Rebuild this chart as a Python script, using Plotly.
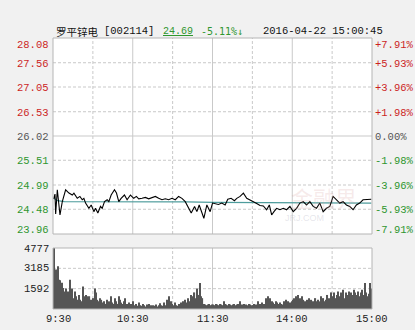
import plotly.graph_objects as go

# ---------------- data ----------------
prev_close = 26.02
price_times = [0, 1, 1.5, 2.75, 4.75, 6.5, 9, 11.5, 14, 15.25, 17.75, 19.75, 21.5, 22.75, 24,
               26.5, 28.25, 30.25, 31.5, 33.25, 35.25, 36.5, 38.25, 40.25, 41.5, 43.25, 45.75,
               47.25, 49, 50.75, 53.25, 55.25, 57.75, 60.25, 62.25, 64, 66.5, 69, 71.5, 74,
               76.5, 79, 81.5, 84, 86.5, 89, 91.5, 94, 96.5, 99, 101.5, 103.5, 106, 107.75,
               109.5, 111.5, 113, 115.25, 117.75, 119.5, 121.5, 124, 126.5, 129, 131, 133.5,
               136, 137.75, 140.25, 142.75, 145.25, 147.75, 150.25, 152.75, 155.25, 157.75,
               160.25, 162.25, 164, 165.75, 167.75, 170.25, 172.75, 175.25, 177.75, 180.25,
               182.75, 185.25, 187.75, 190.25, 192.75, 195.25, 197.75, 200.25, 202.75, 205.25,
               207.75, 210.25, 212.75, 215.25, 217.75, 220.25, 222.75, 225.25, 227.75, 230.25,
               232.75, 235.25, 239]
price_values = [24.70, 24.80, 24.38, 24.89, 24.36, 24.64, 24.89, 24.82, 24.78, 24.82, 24.71,
                24.75, 24.68, 24.71, 24.61, 24.50, 24.57, 24.43, 24.50, 24.40, 24.54, 24.50,
                24.64, 24.68, 24.64, 24.78, 24.89, 24.82, 24.64, 24.71, 24.78, 24.68, 24.78,
                24.71, 24.75, 24.70, 24.71, 24.73, 24.70, 24.73, 24.75, 24.71, 24.68, 24.70,
                24.68, 24.71, 24.68, 24.75, 24.71, 24.64, 24.50, 24.40, 24.54, 24.43, 24.57,
                24.40, 24.29, 24.57, 24.43, 24.61, 24.60, 24.58, 24.61, 24.57, 24.69, 24.71,
                24.66, 24.71, 24.75, 24.82, 24.71, 24.68, 24.64, 24.60, 24.56, 24.55, 24.47,
                24.57, 24.36, 24.43, 24.50, 24.47, 24.50, 24.47, 24.54, 24.43, 24.50, 24.61,
                24.64, 24.57, 24.64, 24.54, 24.50, 24.61, 24.43, 24.50, 24.54, 24.75, 24.68,
                24.61, 24.64, 24.57, 24.54, 24.47, 24.57, 24.61, 24.68, 24.69, 24.69]
avg_times = [0, 3, 8, 30, 60, 100, 120, 180, 239]
avg_values = [24.71, 24.66, 24.64, 24.64, 24.645, 24.635, 24.625, 24.615, 24.61]
volume = [
    4777, 3050, 3100, 3350, 2300, 2250, 2050, 1650, 1380, 1600,
    990, 1380, 2300, 1100, 1600, 850, 1380, 990, 720, 1100,
    720, 600, 1770, 990, 1100, 990, 850, 1000, 720, 600,
    850, 1600, 1300, 720, 600, 850, 720, 500, 600, 400,
    720, 500, 600, 990, 500, 400, 850, 600, 400, 990,
    720, 500, 400, 600, 850, 400, 300, 500, 400, 300,
    600, 300, 400, 250, 500, 300, 250, 400, 300, 200,
    350, 250, 400, 300, 200, 300, 250, 350, 200, 300,
    450, 300, 250, 500, 300, 720, 400, 990, 600, 400,
    300, 500, 300, 250, 400, 300, 500, 600, 400, 720,
    500, 850, 600, 1100, 720, 990, 1300, 850, 1600, 1100,
    2040, 990, 850, 400, 350, 300, 350, 400, 300, 350,
    350, 300, 400, 350, 300, 400, 350, 300, 600, 400,
    350, 300, 400, 350, 300, 350, 400, 300, 350, 400,
    600, 300, 350, 400, 300, 350, 300, 400, 350, 300,
    300, 400, 350, 300, 600, 400, 350, 500, 400, 350,
    850, 990, 720, 850, 600, 500, 400, 600, 500, 400,
    500, 400, 350, 600, 500, 720, 600, 400, 500, 600,
    720, 850, 990, 720, 1100, 850, 600, 990, 720, 600,
    500, 720, 850, 600, 720, 600, 500, 850, 600, 720,
    600, 990, 720, 850, 600, 720, 1100, 850, 720, 1300,
    990, 1300, 850, 1100, 1380, 990, 1300, 1100, 1500, 850,
    1300, 1100, 1380, 990, 1300, 1100, 1500, 1300, 1100, 1380,
    990, 1300, 1500, 1100, 2040, 1300, 990, 1200, 2040, 1600,
]
price_ticks = [28.08, 27.56, 27.05, 26.53, 26.02, 25.51, 24.99, 24.48, 23.96]
pct_labels = ["+7.91%", "+5.93%", "+3.96%", "+1.98%", "0.00%", "-1.98%", "-3.96%", "-5.93%", "-7.91%"]
vol_ticks = [4777, 3185, 1592]
time_ticks = [0, 60, 120, 180, 240]
time_labels = ["9:30", "10:30", "11:30", "14:00", "15:00"]
grid_solid_x = [60, 120, 180]
grid_dash_x = [30, 90, 150, 210]
title_name = "罗平锌电"
title_code = "[002114]"
last_price = "24.69"
last_change = "-5.11%↓"
stamp = "2016-04-22 15:00:45"

# ---------------- layout constants ----------------
W, H = 415, 330
XL, XR = 53, 372
P_TOP, P_BOT = 38, 234
V_TOP, V_BOT = 248, 309
def py(px):
    return 1 - px / H

RED = "#CC1F1F"
GREEN = "#2F962F"
GRAY = "#555555"
MONO = "Liberation Mono, DejaVu Sans Mono, monospace"
GRID = "#C9C9C9"

fig = go.Figure()
fig.add_trace(go.Scatter(x=avg_times, y=avg_values, mode="lines",
                         line=dict(color="#4E9C9C", width=1.2), hoverinfo="skip",
                         xaxis="x", yaxis="y"))
fig.add_trace(go.Scatter(x=price_times, y=price_values, mode="lines",
                         line=dict(color="#000000", width=1.1), hoverinfo="skip",
                         xaxis="x", yaxis="y"))
fig.add_trace(go.Bar(x=list(range(len(volume))), y=volume, marker=dict(color="#555555", line=dict(width=0)),
                     xaxis="x", yaxis="y2", hoverinfo="skip"))

shapes = []
for i, t in enumerate(price_ticks[1:-1]):
    solid = abs(t - prev_close) < 1e-6
    shapes.append(dict(type="line", xref="paper", yref="y", x0=XL / W, x1=XR / W, y0=t, y1=t,
                       line=dict(color=GRID, width=1, dash="solid" if solid else "3px,2px"), layer="below"))
for yr0, yr1 in [(P_TOP, P_BOT), (V_TOP, V_BOT)]:
    for gx in grid_solid_x:
        shapes.append(dict(type="line", xref="x", yref="paper", x0=gx - 0.5, x1=gx - 0.5,
                           y0=py(yr1), y1=py(yr0), line=dict(color=GRID, width=1), layer="below"))
    for gx in grid_dash_x:
        shapes.append(dict(type="line", xref="x", yref="paper", x0=gx - 0.5, x1=gx - 0.5,
                           y0=py(yr1), y1=py(yr0), line=dict(color=GRID, width=1, dash="3px,2px"),
                           layer="below"))
for v in vol_ticks[1:]:
    shapes.append(dict(type="line", xref="paper", yref="y2", x0=XL / W, x1=XR / W, y0=v, y1=v,
                       line=dict(color=GRID, width=1, dash="3px,2px"), layer="below"))
for yr0, yr1 in [(P_TOP, P_BOT), (V_TOP, V_BOT)]:
    shapes.append(dict(type="rect", xref="paper", yref="paper", x0=XL / W, x1=XR / W,
                       y0=py(yr1), y1=py(yr0), line=dict(color="#B5B5B5", width=1),
                       fillcolor="rgba(0,0,0,0)", layer="above"))

ann = []
n = len(price_ticks)
for i, (t, lab) in enumerate(zip(price_ticks, pct_labels)):
    if t > prev_close + 1e-6:
        col = RED
    elif t < prev_close - 1e-6:
        col = GREEN
    else:
        col = GRAY
    ys = -7 if i == 0 else (4 if i == n - 1 else -1)
    ann.append(dict(x=(XL - 2) / W, y=t, xref="paper", yref="y", text=f"{t:.2f}", showarrow=False,
                    xanchor="right", yanchor="middle", yshift=ys, font=dict(family=MONO, size=10.5, color=col)))
    ann.append(dict(x=(XR + 1) / W, y=t, xref="paper", yref="y", text=lab, showarrow=False,
                    xanchor="left", yanchor="middle", yshift=ys, font=dict(family=MONO, size=10.5, color=col)))
for v in vol_ticks:
    ann.append(dict(x=(XL - 2) / W, y=v, xref="paper", yref="y2", text=str(v), showarrow=False,
                    xanchor="right", yanchor="middle", yshift=-1 if v == vol_ticks[0] else 0,
                    font=dict(family=MONO, size=10.5, color="#222222")))
for i, (tt, tl) in enumerate(zip(time_ticks, time_labels)):
    ann.append(dict(x=tt - 0.5, y=py(319), xref="x", yref="paper", text=tl, showarrow=False,
                    xanchor="center", yanchor="middle", xshift=5 if i == 0 else 0,
                    font=dict(family=MONO, size=10.5, color="#222222")))
ann.append(dict(x=54 / W, y=py(31), xref="paper", yref="paper", text=title_name, showarrow=False,
                xanchor="left", yanchor="middle", font=dict(family="Noto Sans CJK SC", size=10.5, color="#111111")))
ann.append(dict(x=102 / W, y=py(31), xref="paper", yref="paper", text=title_code, showarrow=False,
                xanchor="left", yanchor="middle", font=dict(family=MONO, size=10.5, color="#111111")))
ann.append(dict(x=161 / W, y=py(31), xref="paper", yref="paper", text=f"<u>{last_price}</u>", showarrow=False,
                xanchor="left", yanchor="middle", font=dict(family=MONO, size=10, color=GREEN)))
ann.append(dict(x=199 / W, y=py(31), xref="paper", yref="paper", text=last_change, showarrow=False,
                xanchor="left", yanchor="middle", font=dict(family="DejaVu Sans Mono, monospace", size=10, color=GREEN)))
ann.append(dict(x=261 / W, y=py(31), xref="paper", yref="paper", text=stamp, showarrow=False,
                xanchor="left", yanchor="middle", font=dict(family=MONO, size=10.5, color="#111111")))
ann.append(dict(x=324 / W, y=py(197), xref="paper", yref="paper", text="金融界", showarrow=False,
                xanchor="center", yanchor="middle",
                font=dict(family="Noto Sans CJK SC", size=22, color="rgba(215,160,160,0.22)")))
ann.append(dict(x=304 / W, y=py(218), xref="paper", yref="paper", text="JRJ.COM", showarrow=False,
                xanchor="center", yanchor="middle",
                font=dict(family="Liberation Sans", size=9, color="rgba(170,170,190,0.30)")))

fig.update_layout(
    width=W, height=H, margin=dict(l=0, r=0, t=0, b=0),
    paper_bgcolor="#F1F1F1", plot_bgcolor="#FFFFFF",
    showlegend=False, bargap=0.15,
    xaxis=dict(domain=[XL / W, XR / W], range=[-0.5, 239.5], showticklabels=False, showgrid=False,
               zeroline=False, anchor="y2", fixedrange=True),
    yaxis=dict(domain=[py(P_BOT), py(P_TOP)], range=[price_ticks[-1], price_ticks[0]],
               showticklabels=False, showgrid=False, zeroline=False, anchor="x"),
    yaxis2=dict(domain=[py(V_BOT), py(V_TOP)], range=[0, vol_ticks[0]],
                showticklabels=False, showgrid=False, zeroline=False, anchor="x"),
    shapes=shapes, annotations=ann,
)
fig.write_html("out.html")
